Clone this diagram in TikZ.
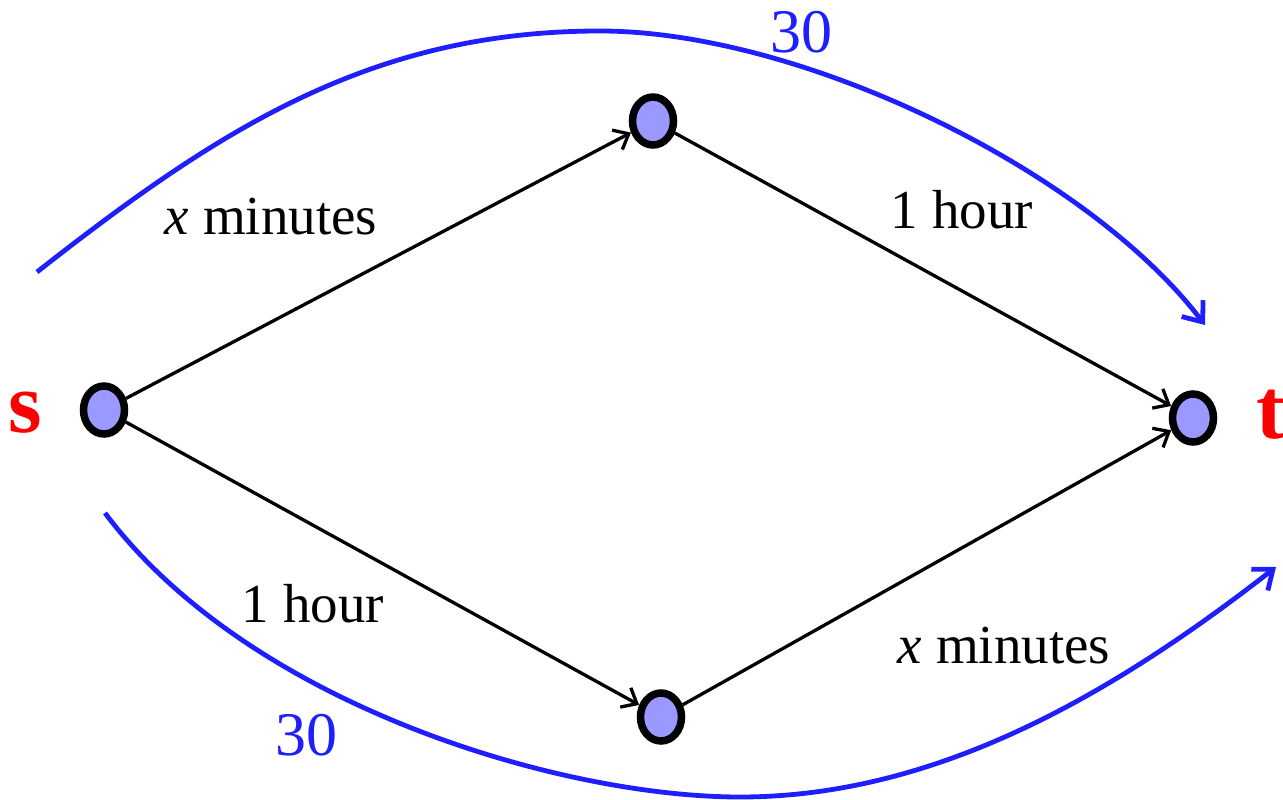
\documentclass[tikz,border=0pt]{standalone}
\usepackage{fontspec}
\setmainfont{Liberation Serif}
\usetikzlibrary{shapes.geometric,arrows.meta}
\definecolor{vfill}{RGB}{153,153,255}
\definecolor{cblue}{RGB}{30,30,255}
\definecolor{cred}{RGB}{255,0,0}
\tikzset{
  vert/.style={ellipse, draw=black, line width=7.5pt, fill=vfill, minimum width=41pt, minimum height=48pt, inner sep=0pt},
  edgearrow/.style={line width=3.3pt, -{Straight Barb[length=13pt,width=22pt]}},
  bluearrow/.style={line width=4.8pt, draw=cblue, -{Straight Barb[length=17pt,width=27pt]}},
  lbl/.style={font=\fontsize{55}{64}\selectfont, anchor=base, inner sep=0pt},
  numlbl/.style={font=\fontsize{62}{72}\selectfont, text=cblue, anchor=base, inner sep=0pt},
  stlbl/.style={font=\fontsize{86}{98}\selectfont\bfseries, text=cred, anchor=base, inner sep=0pt}
}
\begin{document}
\begin{tikzpicture}[x=1pt,y=-1pt]
\useasboundingbox (0,0) rectangle (1283,800);
% vertices
\node[vert] (s) at (104,410) {};
\node[vert] (a) at (653,121) {};
\node[vert] (b) at (661,717) {};
\node[vert] (t) at (1193,418) {};
% edges
\draw[edgearrow] (s) -- (a);
\draw[edgearrow] (a) -- (t);
\draw[edgearrow] (s) -- (b);
\draw[edgearrow] (b) -- (t);
% blue curves
\coordinate (u0) at (37,272);
\coordinate (u1) at (600,31);
\coordinate (u2) at (1205,325);
\draw[bluearrow] (u0) .. controls (218,130) and (370,31) .. (u1)
                      .. controls (800,31) and (1086,169) .. (u2);
\coordinate (d0) at (105,513);
\coordinate (d1) at (740,797);
\coordinate (d2) at (1276,567);
\draw[bluearrow] (d0) .. controls (249,705) and (560,797) .. (d1)
                      .. controls (940,797) and (1118,690) .. (d2);
% labels
\node[lbl] (l1) at (271,234) {\textit{x} minutes};
\node[lbl] (l2) at (962,228) {1 hour};
\node[lbl] (l3) at (313,622) {1 hour};
\node[lbl] (l4) at (1004,663) {\textit{x} minutes};
\node[numlbl] (n1) at (801,53) {30};
\node[numlbl] (n2) at (306,755) {30};
\node[stlbl] (ls) at (25,432) {s};
\node[stlbl] (lt) at (1271,438) {t};
\end{tikzpicture}
\end{document}
